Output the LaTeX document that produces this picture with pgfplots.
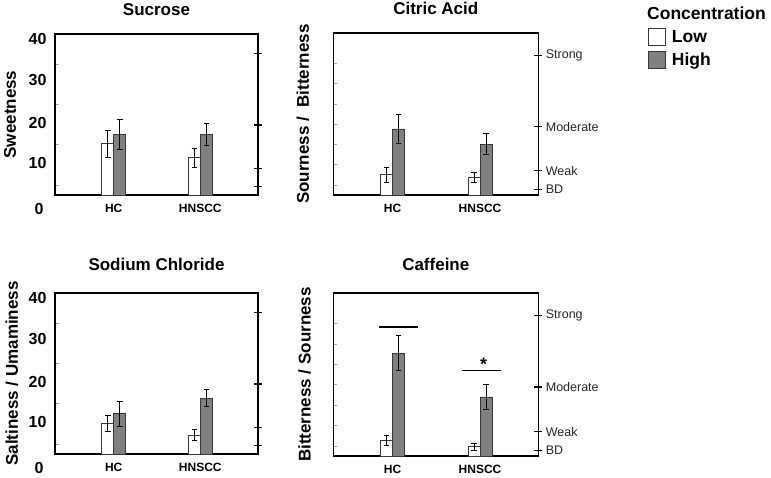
\documentclass[border=0pt]{standalone}
\usepackage{fontspec}
\setmainfont{Liberation Sans}
\usepackage{pgfplots}
\pgfplotsset{compat=1.18}

\definecolor{highfill}{RGB}{128,128,128}
\definecolor{baredge}{RGB}{55,55,55}

\newcommand{\bigbf}{\bfseries\fontsize{17}{17}\selectfont}
\newcommand{\numbf}{\bfseries\fontsize{16}{16}\selectfont}

\pgfplotsset{
  panel/.style={
    scale only axis,
    xmin=-0.678, xmax=1.666, ymin=0, ymax=40,
    axis line style={line width=1.6pt},
    xtick={0,1}, xticklabels={HC,HNSCC},
    xtick style={draw=none},
    xticklabel style={font=\bfseries\fontsize{12}{12}\selectfont, yshift=-6pt},
    ytick pos=left, tick align=inside,
    yticklabels={},
    ytick style={draw=black!35, line width=0.6pt},
    major tick length=4pt,
    every axis title/.style={at={(axis description cs:0.5,1)}, anchor=center, font=\bigbf},
    every axis y label/.style={rotate=90, anchor=center, font=\bigbf},
    clip=false,
  },
  rightticks/.style={
    scale only axis,
    xmin=-0.678, xmax=1.666, ymin=0, ymax=40,
    hide x axis,
    axis y line*=right,
    axis line style={draw=none},
    yticklabels={},
    tick align=center,
    major tick length=8pt,
    ytick style={draw=black, line width=1.3pt},
    yticklabel style={font=\fontsize{12.5}{12.5}\selectfont, text=black!85},
  },
  low/.style={ybar, bar width=12pt, bar shift=-6pt, fill=white, draw=baredge, line width=0.8pt,
    error bars/.cd, y dir=both, y explicit,
    error bar style={black, line width=0.9pt, xshift=-6pt},
    error mark options={yshift=6pt, rotate=90, mark size=2.8pt, black, line width=0.9pt}},
  high/.style={ybar, bar width=12pt, bar shift=6pt, fill=highfill, draw=baredge, line width=0.8pt,
    error bars/.cd, y dir=both, y explicit,
    error bar style={black, line width=0.9pt, xshift=6pt},
    error mark options={yshift=-6pt, rotate=90, mark size=2.8pt, black, line width=0.9pt}},
}

\newcommand{\leftnums}{%
  \node[anchor=east, font=\numbf, xshift=-5pt] at (rel axis cs:0,0.970) {40};
  \node[anchor=east, font=\numbf, xshift=-5pt] at (rel axis cs:0,0.712) {30};
  \node[anchor=east, font=\numbf, xshift=-5pt] at (rel axis cs:0,0.445) {20};
  \node[anchor=east, font=\numbf, xshift=-5pt] at (rel axis cs:0,0.197) {10};
  \node[anchor=east, font=\numbf, xshift=-8pt] at (rel axis cs:0,-0.090) {0};
}

\begin{document}
\begin{tikzpicture}
\useasboundingbox (0,0) rectangle (771pt,477pt);

% ---------------- Sucrose ----------------
\begin{axis}[panel, at={(55pt,282pt)}, anchor=south west, width=203pt, height=161pt,
  ytick={2.5,12.5,22.5,32.5},
  title={Sucrose}, title style={yshift=24.5pt},
  ylabel={Sweetness}, ylabel style={at={(axis description cs:-0.222,0.5)}}]
\addplot[low] coordinates {(0,12.7) +- (0,3.25) (1,9.25) +- (0,2.35)};
\addplot[high] coordinates {(0,15.0) +- (0,3.8) (1,15.0) +- (0,2.8)};
\leftnums
\end{axis}
\begin{axis}[rightticks, at={(55pt,282pt)}, anchor=south west, width=203pt, height=161pt,
  ytick={2.05,6.5,17.4,35.1}]
\addplot[draw=none] coordinates {(0,0)};
\end{axis}

% ---------------- Citric Acid ----------------
\begin{axis}[panel, at={(333.3pt,282pt)}, anchor=south west, width=205pt, height=162pt,
  ytick={2.5,7.5,12.5,17.5,22.5,27.5,32.5},
  title={Citric Acid}, title style={yshift=24.5pt},
  ylabel={Sourness /\ \ Bitterness}, ylabel style={at={(axis description cs:-0.148,0.5)}},
  legend style={at={(axis description cs:1.535,1.03)}, anchor=north west, draw=none, fill=none,
    font=\bfseries\fontsize{17.5}{17.5}\selectfont, row sep=5pt, inner sep=0pt},
  legend cell align=left]
\addplot[forget plot, low] coordinates {(0,5.0) +- (0,1.9) (1,4.3) +- (0,1.3)};
\addplot[forget plot, high] coordinates {(0,16.3) +- (0,3.65) (1,12.5) +- (0,2.6)};
\addlegendimage{legend image code/.code={\draw[fill=white, draw=baredge, line width=0.8pt] (0pt,-8.5pt) rectangle (17pt,8.5pt);}}
\addlegendentry{\hspace{4pt}Low}
\addlegendimage{legend image code/.code={\draw[fill=highfill, draw=baredge, line width=0.8pt] (0pt,-8.5pt) rectangle (17pt,8.5pt);}}
\addlegendentry{\hspace{4pt}High}
\end{axis}
\begin{axis}[rightticks, at={(333.3pt,282pt)}, anchor=south west, width=205pt, height=162pt,
  ytick={1.4,6,16.9,34.4}, yticklabels={BD,Weak,Moderate,Strong}]
\addplot[draw=none] coordinates {(0,0)};
\end{axis}

% ---------------- Sodium Chloride ----------------
\begin{axis}[panel, at={(55pt,23pt)}, anchor=south west, width=203pt, height=161pt,
  ytick={2.5,12.5,22.5,32.5},
  title={Sodium Chloride}, title style={yshift=29pt},
  ylabel={Saltiness / Umaminess}, ylabel style={at={(axis description cs:-0.212,0.5)}}]
\addplot[low] coordinates {(0,7.5) +- (0,2.0) (1,4.7) +- (0,1.4)};
\addplot[high] coordinates {(0,10.0) +- (0,3.1) (1,13.9) +- (0,2.15)};
\leftnums
\end{axis}
\begin{axis}[rightticks, at={(55pt,23pt)}, anchor=south west, width=203pt, height=161pt,
  ytick={2.05,6.5,17.4,35.1}]
\addplot[draw=none] coordinates {(0,0)};
\end{axis}

% ---------------- Caffeine ----------------
\begin{axis}[panel, at={(333.3pt,21pt)}, anchor=south west, width=205pt, height=163pt,
  ytick={2.5,7.5,12.5,17.5,22.5,27.5,32.5},
  title={Caffeine}, title style={yshift=29pt},
  ylabel={Bitterness / Sourness}, ylabel style={at={(axis description cs:-0.14,0.5)}}]
\addplot[low] coordinates {(0,3.8) +- (0,1.25) (1,2.3) +- (0,0.85)};
\addplot[high] coordinates {(0,25.2) +- (0,4.3) (1,14.5) +- (0,3.05)};
\addplot[black, line width=1.8pt, no marks] coordinates {(-0.15,31.75) (0.293,31.75)};
\addplot[black, line width=1.8pt, no marks] coordinates {(0.795,21.0) (1.238,21.0)};
\node[font=\bfseries\fontsize{18}{18}\selectfont] at (axis cs:1.041,22.4) {*};
\end{axis}
\begin{axis}[rightticks, at={(333.3pt,21pt)}, anchor=south west, width=205pt, height=163pt,
  ytick={1.4,6,16.9,34.4}, yticklabels={BD,Weak,Moderate,Strong}]
\addplot[draw=none] coordinates {(0,0)};
\end{axis}

\node[anchor=west, font=\bfseries\fontsize{17.5}{17.5}\selectfont, inner sep=0pt] at (647pt,464pt) {Concentration};
\end{tikzpicture}
\end{document}
